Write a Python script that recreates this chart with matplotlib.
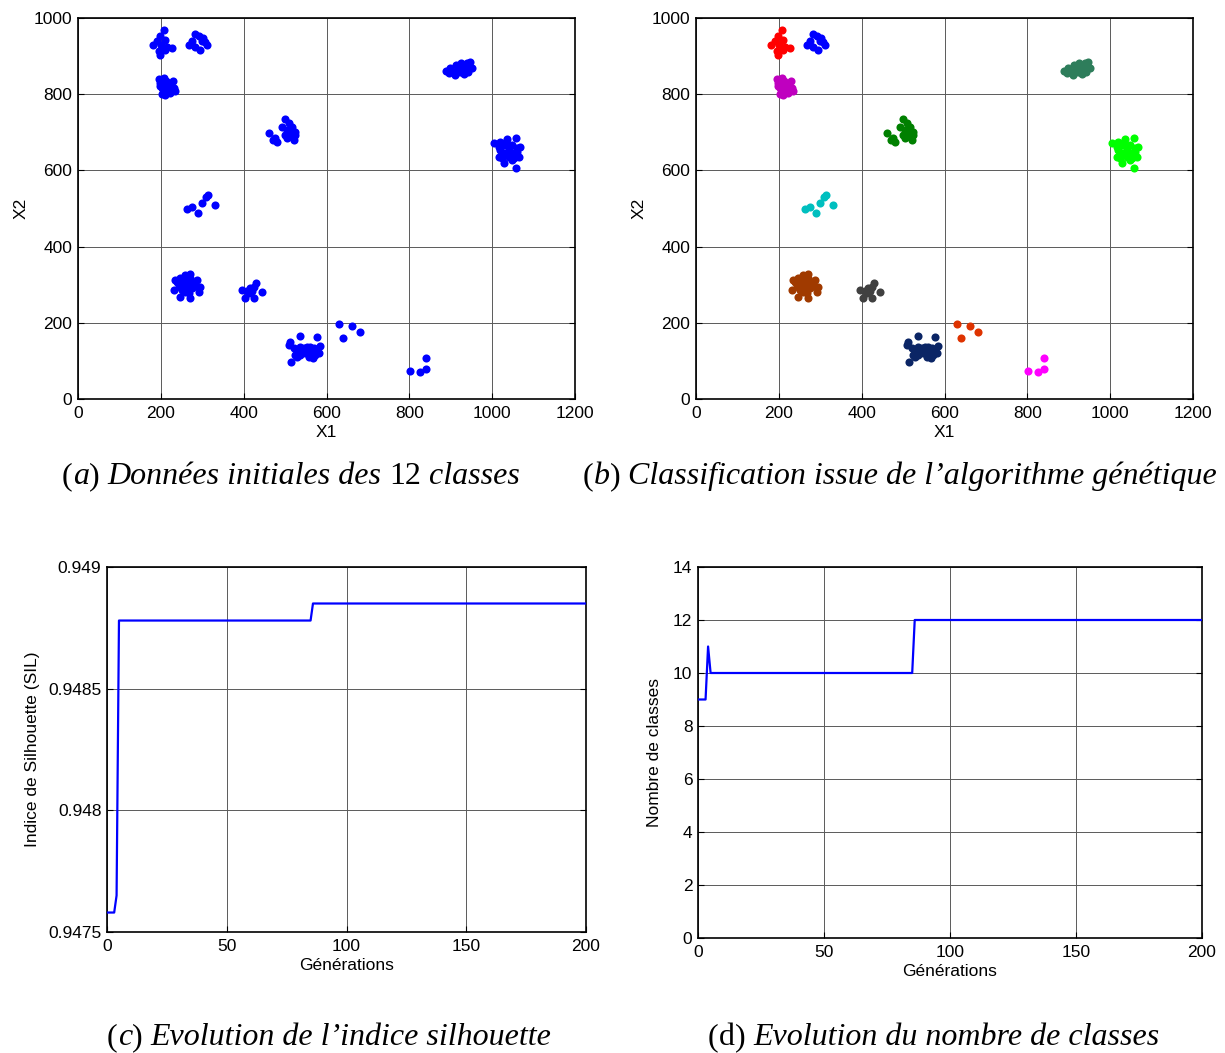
import matplotlib
matplotlib.use("Agg")
import matplotlib.pyplot as plt

plt.rcParams['font.family'] = ['Liberation Sans', 'DejaVu Sans']

# ---------------- data: clusters (X1, X2) ----------------
red_x = [207, 199, 211, 191, 180, 201, 215, 227, 196, 211, 199, 204]
red_y = [969, 952, 943, 939, 928, 930, 923, 921, 914, 917, 902, 919]

blue_x = [283, 291, 303, 275, 307, 267, 283, 311, 295, 299]
blue_y = [959, 952, 948, 939, 937, 930, 923, 928, 917, 939]

mag_x = [195, 207, 212, 229, 199, 209, 219, 203, 215, 231, 235, 207, 223, 211, 199, 225, 217, 204]
mag_y = [840, 843, 835, 834, 829, 825, 821, 816, 812, 816, 808, 806, 803, 797, 821, 812, 829, 800]

green_x = [460, 476, 480, 493, 500, 509, 517, 525, 505, 513, 521, 505, 509, 517, 500, 525, 472]
green_y = [697, 684, 675, 715, 735, 724, 715, 702, 706, 693, 680, 684, 697, 688, 693, 693, 680]

cyan_x = [262, 275, 290, 300, 308, 315, 330]
cyan_y = [500, 505, 488, 515, 530, 535, 510]

brown_x = [231, 235, 247, 259, 271, 287, 295, 292, 271, 247, 243, 255, 263, 251, 267, 275,
           259, 279, 239, 267, 283, 247, 259, 271]
brown_y = [286, 312, 318, 325, 327, 312, 295, 280, 264, 267, 299, 304, 295, 286, 308, 291,
           282, 304, 308, 277, 297, 295, 315, 317]

gray_x = [396, 404, 412, 416, 424, 430, 424, 444, 408, 420]
gray_y = [286, 264, 277, 292, 264, 304, 295, 282, 283, 283]

navy_x = [515, 509, 513, 537, 577, 585, 521, 529, 537, 545, 553, 561, 569, 577, 581, 525,
          537, 549, 557, 567, 573, 561, 553, 533, 541, 565, 529]
navy_y = [98, 142, 149, 166, 164, 140, 133, 124, 137, 133, 137, 137, 133, 129, 122, 115,
          115, 120, 111, 107, 115, 124, 126, 129, 124, 120, 111]

orange_x = [631, 662, 680, 640]
orange_y = [197, 192, 177, 161]

pink_x = [801, 825, 841, 841]
pink_y = [73, 70, 78, 108]

sea_x = [888, 898, 905, 913, 917, 925, 929, 937, 942, 946, 951, 910, 932, 896, 922, 939]
sea_y = [861, 869, 858, 877, 864, 882, 866, 874, 858, 885, 869, 850, 853, 856, 858, 882]

lime_x = [1004, 1020, 1036, 1058, 1068, 1060, 1064, 1052, 1028, 1058, 1016, 1020, 1028,
          1040, 1048, 1032, 1040, 1044, 1024, 1052, 1016, 1034, 1048, 1060, 1024]
lime_y = [671, 675, 682, 684, 662, 649, 636, 632, 619, 607, 636, 654, 667, 658, 667, 645,
          636, 649, 632, 645, 662, 675, 627, 658, 645]

clusters = [
    (red_x, red_y, '#FF0000'),
    (blue_x, blue_y, '#0000FF'),
    (mag_x, mag_y, '#BF00BF'),
    (green_x, green_y, '#008000'),
    (cyan_x, cyan_y, '#00BFBF'),
    (brown_x, brown_y, '#A03A00'),
    (gray_x, gray_y, '#404040'),
    (navy_x, navy_y, '#0B2565'),
    (orange_x, orange_y, '#DE3300'),
    (pink_x, pink_y, '#FF00FF'),
    (sea_x, sea_y, '#2E7D5B'),
    (lime_x, lime_y, '#00FF00'),
]

# ---------------- data: evolution curves (breakpoints) ----------------
gen_sil = [0, 3, 4, 5, 85, 86, 200]
sil_val = [0.94758, 0.94758, 0.94765, 0.94878, 0.94878, 0.94885, 0.94885]

gen_nb = [0, 3, 4, 5, 85, 86, 200]
nb_val = [9, 9, 11, 10, 10, 12, 12]

xticks_ab = [0, 200, 400, 600, 800, 1000, 1200]
yticks_ab = [0, 200, 400, 600, 800, 1000]
xticks_cd = [0, 50, 100, 150, 200]
yticks_c = [0.9475, 0.948, 0.9485, 0.949]
yticklabels_c = ['0.9475', '0.948', '0.9485', '0.949']
yticks_d = [0, 2, 4, 6, 8, 10, 12, 14]

# ---------------- figure ----------------
W, H = 1225, 1053
fig = plt.figure(figsize=(W / 100, H / 100), dpi=100)
FS = 12.5
GRID = dict(color='#5a5a5a', linewidth=0.7, linestyle='-')


def style(ax):
    ax.grid(True, **GRID)
    ax.set_axisbelow(True)
    ax.tick_params(direction='in', length=4, width=0.8, labelsize=FS, top=False, right=True,
                   pad=4)
    ax.tick_params(axis='x', pad=5)
    for s in ax.spines.values():
        s.set_linewidth(1.2)
        s.set_color('black')


def px_axes(x0, x1, y0, y1):
    return fig.add_axes([x0 / W, 1 - y1 / H, (x1 - x0) / W, (y1 - y0) / H])


ax_a = px_axes(78, 575, 18, 399)
ax_b = px_axes(696, 1193, 18, 399)
for ax, colored in ((ax_a, False), (ax_b, True)):
    for cx, cy, col in clusters:
        ax.scatter(cx, cy, s=34, color=(col if colored else '#0000FF'), linewidths=0, zorder=3)
    ax.set_xlim(0, 1200)
    ax.set_ylim(0, 1000)
    ax.set_xticks(xticks_ab)
    ax.set_yticks(yticks_ab)
    ax.set_xlabel('X1', fontsize=FS, labelpad=3)
    ax.set_ylabel('X2', fontsize=FS, labelpad=4)
    style(ax)

ax_c = px_axes(107, 586, 567, 932)
ax_c.plot(gen_sil, sil_val, color='#0000FF', lw=1.6, zorder=3)
ax_c.set_xlim(0, 200)
ax_c.set_ylim(0.9475, 0.949)
ax_c.set_xticks(xticks_cd)
ax_c.set_yticks(yticks_c)
ax_c.set_yticklabels(yticklabels_c)
ax_c.set_xlabel('Générations', fontsize=FS, labelpad=3)
ax_c.set_ylabel('Indice de Silhouette (SIL)', fontsize=FS, labelpad=6)
style(ax_c)

ax_d = px_axes(698, 1202, 567, 938)
ax_d.plot(gen_nb, nb_val, color='#0000FF', lw=1.6, zorder=3)
ax_d.set_xlim(0, 200)
ax_d.set_ylim(0, 14)
ax_d.set_xticks(xticks_cd)
ax_d.set_yticks(yticks_d)
ax_d.set_xlabel('Générations', fontsize=FS, labelpad=3)
ax_d.set_ylabel('Nombre de classes', fontsize=FS, labelpad=8)
style(ax_d)

# ---------------- captions (mixed upright / italic) ----------------
CFS = 23


def caption(x_px, y_px, parts):
    renderer = fig.canvas.get_renderer()
    x = x_px
    for txt, italic in parts:
        t = fig.text(x / W, 1 - y_px / H, txt, fontsize=CFS, family='Liberation Serif',
                     style=('italic' if italic else 'normal'), va='baseline', ha='left')
        bb = t.get_window_extent(renderer=renderer)
        x += bb.width


caption(62, 484, [('(', False), ('a', True), (') ', False), ('Données initiales des ', True),
                  ('12', False), (' classes', True)])
caption(583, 484, [('(', False), ('b', True), (') ', False),
                   ('Classification issue de l\u2019algorithme génétique', True)])
caption(107, 1045, [('(', False), ('c', True), (') ', False),
                    ('Evolution de l\u2019indice silhouette', True)])
caption(708, 1045, [('(', False), ('d', False), (') ', False),
                    ('Evolution du nombre de classes', True)])

fig.savefig('out.png', dpi=100)
